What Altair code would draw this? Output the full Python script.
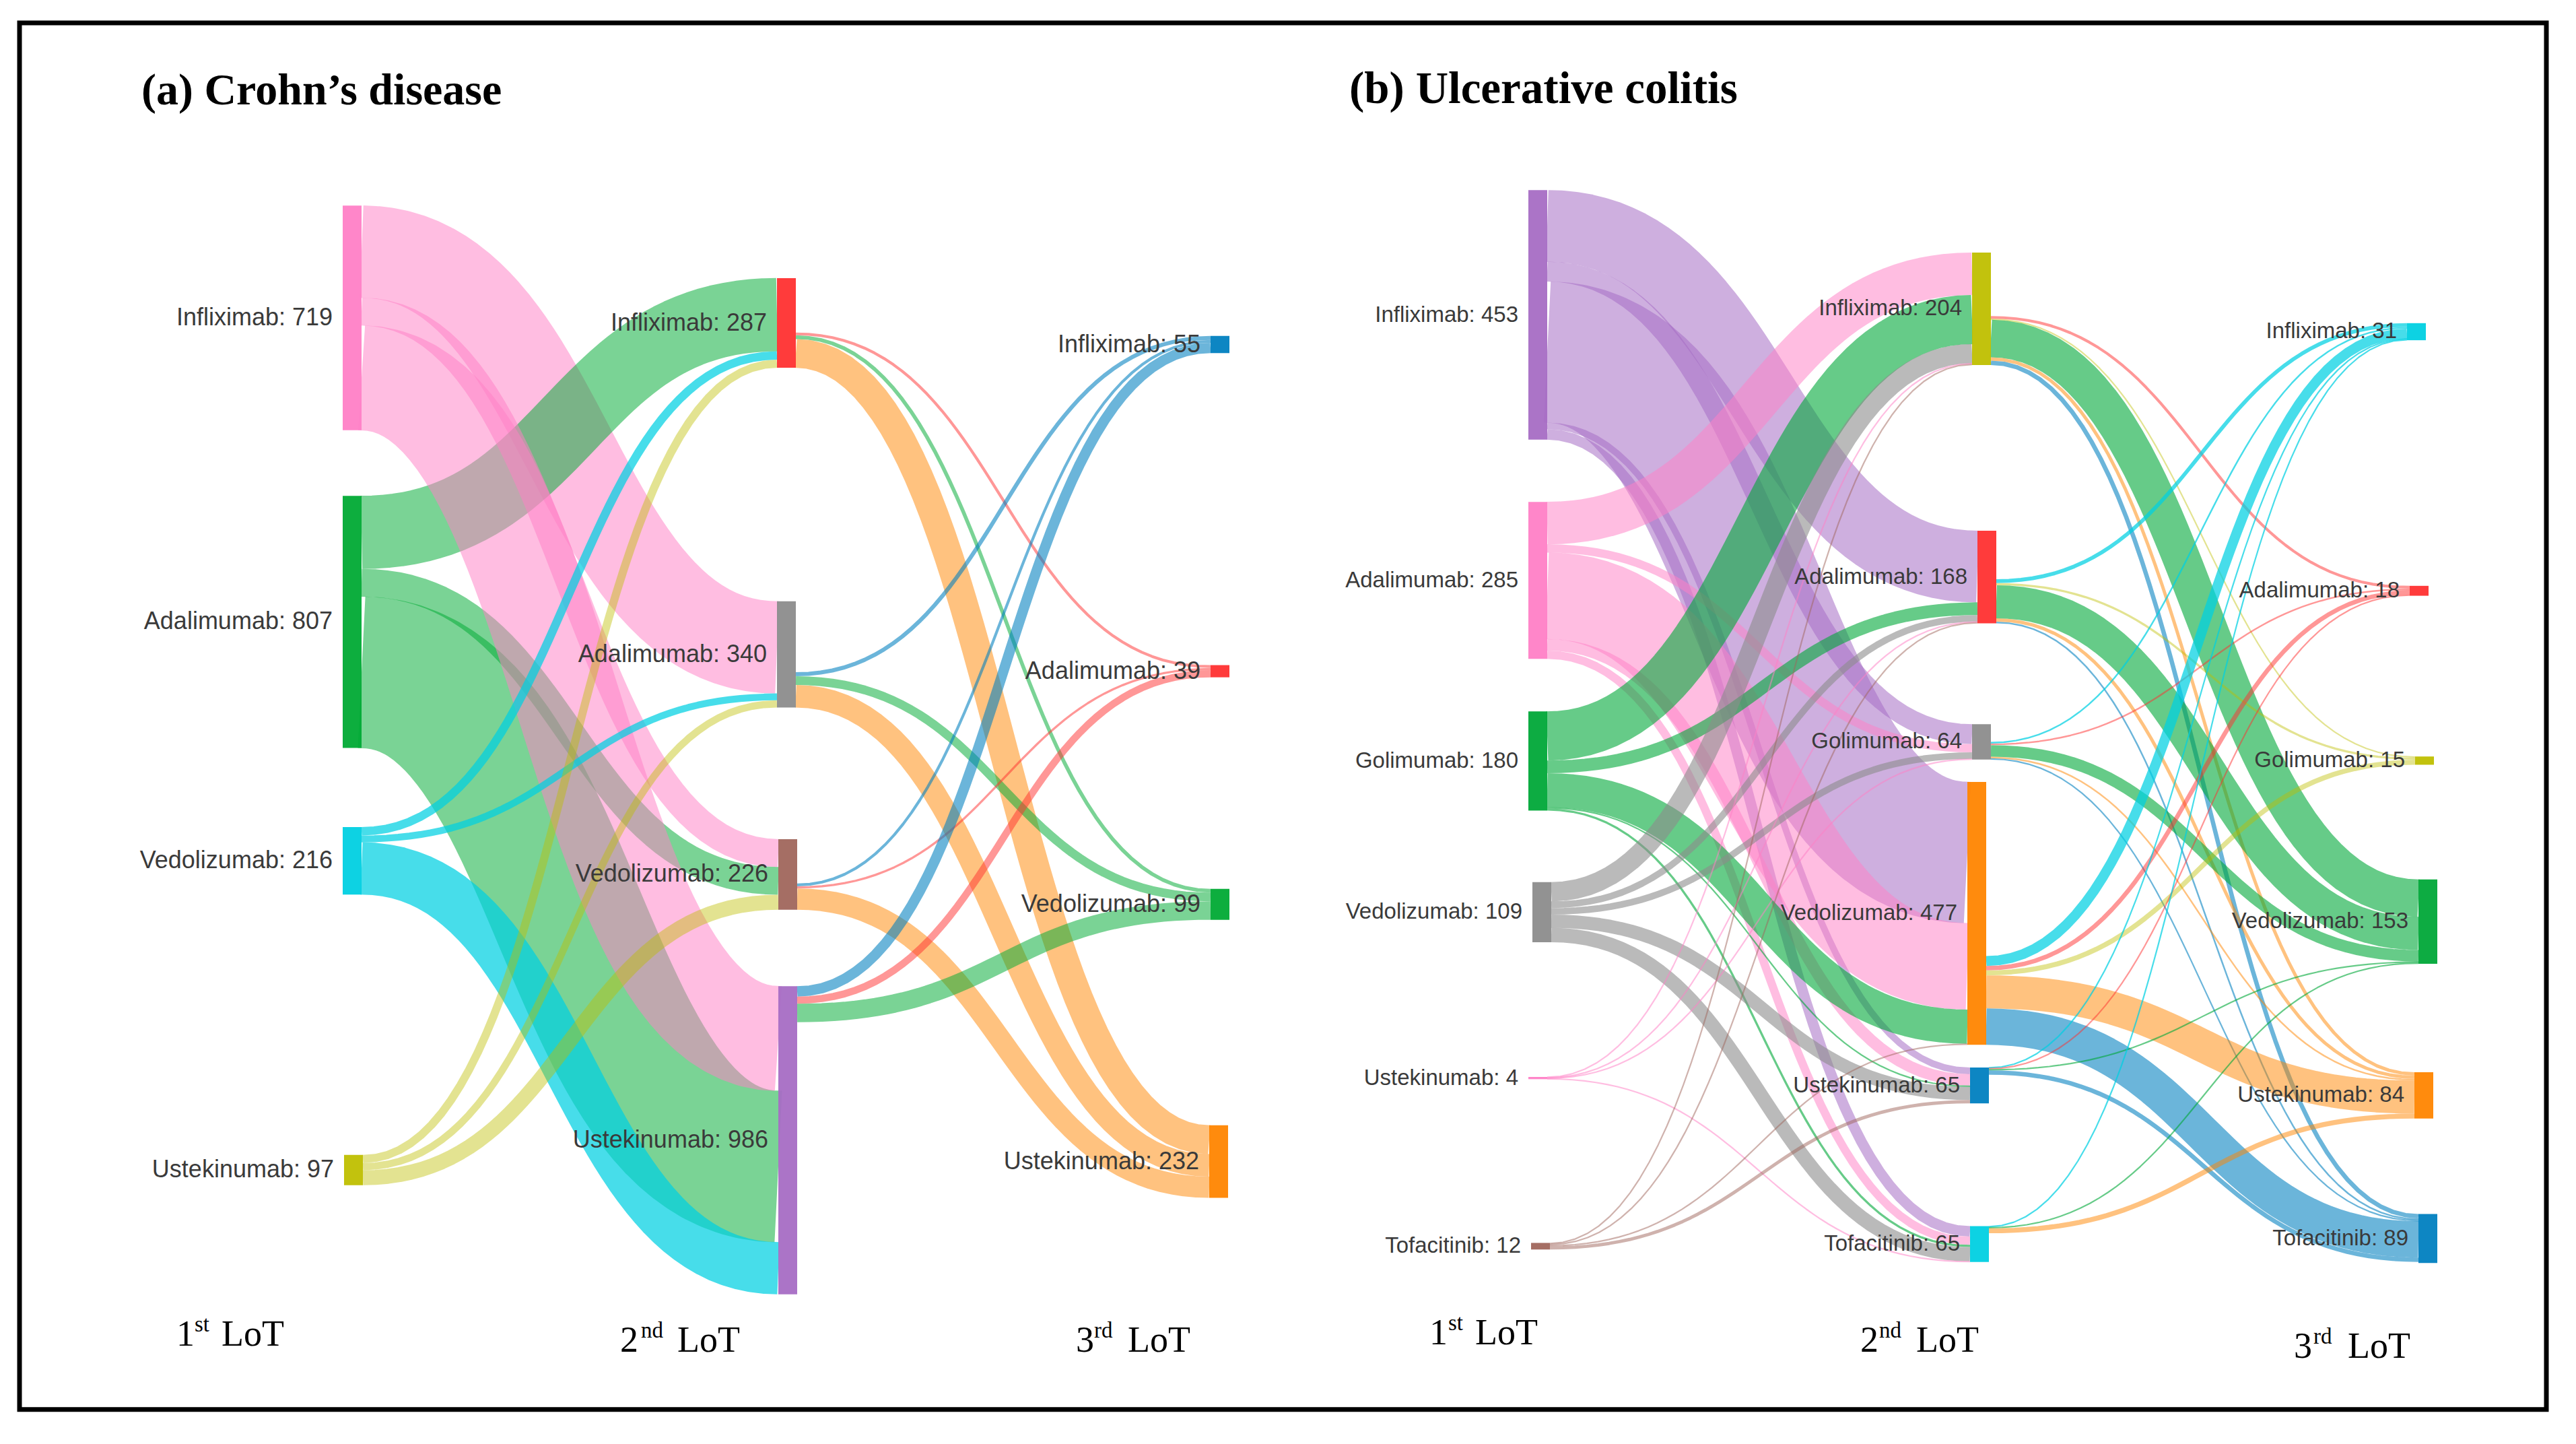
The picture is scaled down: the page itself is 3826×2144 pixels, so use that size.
import altair as alt
import pandas as pd

# ---------- data: patients per drug and line of therapy ----------
a_lot1_names = ["Infliximab", "Adalimumab", "Vedolizumab", "Ustekinumab"]
a_lot1_totals = [719, 807, 216, 97]
a_lot2_names = ["Infliximab", "Adalimumab", "Vedolizumab", "Ustekinumab"]
a_lot2_totals = [287, 340, 226, 986]
a_lot3_names = ["Infliximab", "Adalimumab", "Vedolizumab", "Ustekinumab"]
a_lot3_totals = [55, 39, 99, 232]
a_flows_12 = [
    [0, 295, 89, 335],
    [234, 0, 89, 484],
    [27, 22, 0, 167],
    [26, 23, 48, 0],
]
a_flows_23 = [
    [0, 9, 12, 92],
    [13, 0, 28, 72],
    [9, 7, 0, 68],
    [33, 23, 59, 0],
]

b_lot1_names = ["Infliximab", "Adalimumab", "Golimumab", "Vedolizumab", "Ustekinumab", "Tofacitinib"]
b_lot1_totals = [453, 285, 180, 109, 4, 12]
b_lot2_names = ["Infliximab", "Adalimumab", "Golimumab", "Vedolizumab", "Ustekinumab", "Tofacitinib"]
b_lot2_totals = [204, 168, 64, 477, 65, 65]
b_lot3_names = ["Infliximab", "Adalimumab", "Golimumab", "Vedolizumab", "Ustekinumab", "Tofacitinib"]
b_lot3_totals = [31, 18, 15, 153, 84, 89]
b_flows_12 = [
    [0, 130, 36, 256, 12, 19],
    [77, 0, 15, 157, 21, 15],
    [89, 23, 0, 62, 2, 4],
    [35, 12, 12, 0, 24, 26],
    [1, 1, 1, 0, 0, 1],
    [2, 2, 0, 2, 6, 0],
]
b_flows_23 = [
    [0, 5, 2, 68, 6, 8],
    [7, 0, 4, 60, 6, 3],
    [3, 3, 0, 21, 3, 2],
    [18, 8, 9, 0, 60, 66],
    [1, 2, 0, 2, 0, 8],
    [2, 0, 0, 2, 9, 0],
]

# ---------- layout and style ----------
W, H = 3806, 2124
PINK, GREEN, CYAN, YELLOW = "#FF80C6", "#00AA34", "#00D0E2", "#BFBF00"
RED, GRAY, BROWN, PURPLE = "#FF3030", "#8C8C8C", "#A0665C", "#A66DC4"
BLUE, ORANGE, GREEN_B = "#0080C0", "#FF8500", "#00A838"
NODE_W = 28
LINK_OPACITY = {PINK: 0.52, GREEN: 0.52, GREEN_B: 0.6, CYAN: 0.72, YELLOW: 0.43, RED: 0.5,
                GRAY: 0.6, BROWN: 0.5, PURPLE: 0.55, BLUE: 0.58, ORANGE: 0.5}

panels = [
    dict(
        scale=0.465, font=36,
        columns=[
            dict(names=a_lot1_names, totals=a_lot1_totals, x=[509, 509, 509, 511],
                 top=[308, 740, 1233, 1721], color=[PINK, GREEN, CYAN, YELLOW], top_out=[]),
            dict(names=a_lot2_names, totals=a_lot2_totals, x=[1154, 1154, 1156, 1156],
                 top=[416, 897, 1251, 1470], color=[RED, GRAY, BROWN, PURPLE], top_out=[3]),
            dict(names=a_lot3_names, totals=a_lot3_totals, x=[1798, 1798, 1798, 1796],
                 top=[502, 992, 1325, 1677], color=[BLUE, RED, GREEN, ORANGE], top_out=[]),
        ],
        flows=[a_flows_12, a_flows_23],
        # ribbons of the first stage drawn first: (from, to)
        under=[(0, 1), (1, 0), (1, 2), (1, 3), (0, 2), (0, 3)],
    ),
    dict(
        scale=0.82, font=33,
        columns=[
            dict(names=b_lot1_names, totals=b_lot1_totals, x=[2270, 2270, 2270, 2276, 2270, 2274],
                 top=[285, 749, 1061, 1315, 1605, 1852],
                 color=[PURPLE, PINK, GREEN_B, GRAY, PINK, BROWN], top_out=[]),
            dict(names=b_lot2_names, totals=b_lot2_totals, x=[2929, 2937, 2929, 2922, 2926, 2926],
                 top=[378, 792, 1080, 1166, 1591, 1827],
                 color=[YELLOW, RED, GRAY, ORANGE, BLUE, CYAN], top_out=[4, 5]),
            dict(names=b_lot3_names, totals=b_lot3_totals, x=[3575, 3579, 3587, 3592, 3586, 3592],
                 top=[483, 874, 1128, 1311, 1598, 1809],
                 color=[CYAN, RED, YELLOW, GREEN_B, ORANGE, BLUE], top_out=[]),
        ],
        flows=[b_flows_12, b_flows_23],
        under=[],
    ),
]

# ---------- build tables ----------
node_rows, label_rows, link_specs = [], [], []
STEPS = 48

for p_idx, panel in enumerate(panels):
    s = panel["scale"]
    for col in panel["columns"]:
        for i, name in enumerate(col["names"]):
            x0, y0 = col["x"][i], col["top"][i]
            h = col["totals"][i] * s
            node_rows.append(dict(x=x0, x2=x0 + NODE_W, y=y0, y2=y0 + h, c=col["color"][i]))
            label_rows.append(dict(x=x0 - 15, y=y0 + h / 2,
                                   t=f"{name}: {col['totals'][i]}", fs=panel["font"]))
    for stage, matrix in enumerate(panel["flows"]):
        src, dst = panel["columns"][stage], panel["columns"][stage + 1]
        n = len(matrix)
        out_sum = [sum(row) for row in matrix]
        out_y = []
        for i in range(n):
            if stage == 0 or i in src["top_out"]:
                out_y.append(src["top"][i])
            else:
                out_y.append(src["top"][i] + (src["totals"][i] - out_sum[i]) * s)
        in_y = list(dst["top"])
        for i in range(n):
            for j in range(n):
                v = matrix[i][j]
                if not v:
                    continue
                w = v * s
                ya = out_y[i] + w / 2
                yb = in_y[j] + w / 2
                out_y[i] += w
                in_y[j] += w
                color = src["color"][i] if stage == 0 else dst["color"][j]
                under = panel["under"]
                rank = under.index((i, j)) if stage == 0 and (i, j) in under else len(under)
                link_specs.append(dict(
                    key=(p_idx, stage, rank), xa=src["x"][i] + NODE_W, xb=dst["x"][j],
                    ya=ya, yb=yb, w=max(w, 2.2), c=color))

link_specs.sort(key=lambda d: d["key"])
final_rows = []
for lid, spec in enumerate(link_specs):
    xa, xb, ya, yb = spec["xa"], spec["xb"], spec["ya"], spec["yb"]
    xm = (xa + xb) / 2
    for k in range(STEPS + 1):
        t = k / STEPS
        u = 1 - t
        px = u**3 * xa + 3 * u * u * t * xm + 3 * u * t * t * xm + t**3 * xb
        py = u**3 * ya + 3 * u * u * t * ya + 3 * u * t * t * yb + t**3 * yb
        final_rows.append(dict(id=lid, k=k, x=px, y=py, w=spec["w"], c=spec["c"],
                               o=LINK_OPACITY[spec["c"]]))

links = pd.DataFrame(final_rows)
nodes = pd.DataFrame(node_rows)
labels = pd.DataFrame(label_rows)

headers = pd.DataFrame([
    dict(x=210, y=157, t="(a) Crohn\u2019s disease", fs=66),
    dict(x=2004, y=155, t="(b) Ulcerative colitis", fs=67),
])
lot_big = pd.DataFrame([
    dict(x=262, y=2005, t="1"), dict(x=329, y=2005, t="LoT"),
    dict(x=921, y=2014, t="2"), dict(x=1006, y=2014, t="LoT"),
    dict(x=1598, y=2014, t="3"), dict(x=1675, y=2014, t="LoT"),
    dict(x=2123, y=2003, t="1"), dict(x=2191, y=2003, t="LoT"),
    dict(x=2763, y=2014, t="2"), dict(x=2846, y=2014, t="LoT"),
    dict(x=3407, y=2023, t="3"), dict(x=3487, y=2023, t="LoT"),
])
lot_sup = pd.DataFrame([
    dict(x=289, y=1984, t="st"), dict(x=952, y=1993, t="nd"), dict(x=1625, y=1993, t="rd"),
    dict(x=2151, y=1982, t="st"), dict(x=2791, y=1993, t="nd"), dict(x=3436, y=2002, t="rd"),
])
frame = pd.DataFrame([dict(x=29, x2=3782, y=36, y2=2100)])

# ---------- chart ----------
X = alt.X("x:Q", scale=alt.Scale(domain=[8, 8 + W], nice=False, zero=False), axis=None)
Y = alt.Y("y:Q", scale=alt.Scale(domain=[2139.3, 10.025], nice=False, zero=False), axis=None)

link_layer = alt.Chart(links).mark_line(
    strokeCap="butt", strokeJoin="round", interpolate="linear", clip=False
).encode(
    x=X, y=Y,
    color=alt.Color("c:N", scale=None),
    size=alt.Size("w:Q", scale=None),
    opacity=alt.Opacity("o:Q", scale=None),
    detail="id:N",
    order="k:Q",
)
node_layer = alt.Chart(nodes).mark_rect(opacity=0.95).encode(
    x=X, x2="x2:Q", y=Y, y2="y2:Q", color=alt.Color("c:N", scale=None)
)
label_layer = alt.Chart(labels).mark_text(
    align="right", baseline="middle", font="Liberation Sans", color="#3a3a3a"
).encode(x=X, y=Y, text="t:N", size=alt.Size("fs:Q", scale=None))
header_layer = alt.Chart(headers).mark_text(
    align="left", baseline="alphabetic", font="Liberation Serif", fontWeight="bold", color="black"
).encode(x=X, y=Y, text="t:N", size=alt.Size("fs:Q", scale=None))
lot_layer = alt.Chart(lot_big).mark_text(
    align="left", baseline="alphabetic", font="Liberation Serif", fontSize=54, color="black"
).encode(x=X, y=Y, text="t:N")
sup_layer = alt.Chart(lot_sup).mark_text(
    align="left", baseline="alphabetic", font="Liberation Serif", fontSize=33, color="black"
).encode(x=X, y=Y, text="t:N")
frame_layer = alt.Chart(frame).mark_rect(
    fillOpacity=0, stroke="black", strokeWidth=7
).encode(x=X, x2="x2:Q", y=Y, y2="y2:Q")

chart = alt.layer(
    frame_layer, link_layer, node_layer, label_layer, header_layer, lot_layer, sup_layer
).properties(
    width=W, height=H, padding=0, autosize=alt.AutoSizeParams(type="none"), background="white"
).configure_view(stroke=None)

chart.save("out.html", embed_options={"renderer": "svg", "actions": False})
